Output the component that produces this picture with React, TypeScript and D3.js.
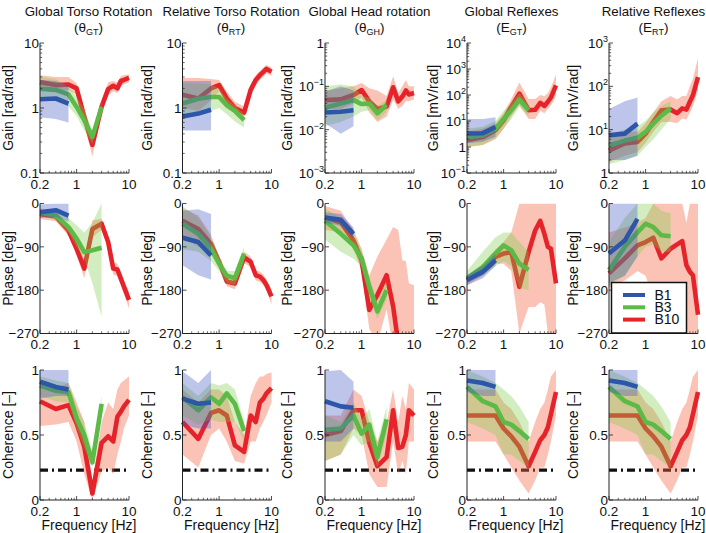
import React from "react";
import * as d3 from "d3";

// ---------- frequencies ----------
const FREQ_B1 = [0.2, 0.4, 0.7];
const FREQ_B3 = [0.2, 0.4, 0.7, 1, 1.4, 2, 3];
const FREQ_B10 = [0.2, 0.4, 0.7, 1, 1.4, 2, 3, 4, 5, 6, 7, 8, 10];

const X_TICKS = [0.2, 1, 10];
const X_TICK_LABELS = ["0.2", "1", "10"];
const COH_THRESHOLD = 0.23;

const TITLES = ["Global Torso Rotation", "Relative Torso Rotation", "Global Head rotation", "Global Reflexes", "Relative Reflexes"];
const TITLE_SYMBOLS = ["θ", "θ", "θ", "E", "E"];
const TITLE_SUBS = ["GT", "RT", "GH", "GT", "RT"];
const GAIN_LABELS = ["Gain [rad/rad]", "Gain [rad/rad]", "Gain [rad/rad]", "Gain [mV/rad]", "Gain [mV/rad]"];
const GAIN_DOMAINS: [number, number][] = [[0.1, 10], [0.1, 10], [0.001, 1], [0.1, 10000], [1, 1000]];
const GAIN_TICK_EXPS = [[-1, 0, 1], [-1, 0, 1], [-3, -2, -1, 0], [-1, 0, 1, 2, 3, 4], [0, 1, 2, 3]];
const GAIN_TICK_STYLE = ["decimal", "decimal", "power", "power", "power"];
const PHASE_TICKS = [-270, -180, -90, 0];
const COH_TICKS = [0, 0.5, 1];
const LEGEND_NAMES = ["B1", "B3", "B10"];

// ---------- Gain: Global torso (θGT) ----------
const gainGT_B1 = [1.36, 1.4, 1.17];
const gainGT_B1_lo = [0.72, 0.68, 0.6];
const gainGT_B1_hi = [2.7, 2.6, 2.2];
const gainGT_B3 = [1.98, 1.9, 1.62, 1.04, 0.65, 0.36, 1.04];
const gainGT_B3_lo = [1.3, 1.3, 1.05, 0.75, 0.45, 0.28, 0.9];
const gainGT_B3_hi = [3.0, 2.8, 2.1, 1.5, 0.95, 0.45, 1.25];
const gainGT_B10 = [2.5, 2.25, 2.3, 2.0, 0.73, 0.27, 1.05, 1.95, 2.2, 2.0, 2.6, 2.7, 2.9];
const gainGT_B10_lo = [1.9, 1.8, 1.9, 1.6, 0.55, 0.18, 0.85, 1.6, 1.8, 1.7, 2.2, 2.3, 2.5];
const gainGT_B10_hi = [3.2, 3.0, 3.0, 2.4, 0.95, 0.4, 1.3, 2.5, 2.6, 2.5, 3.1, 3.2, 3.3];

// ---------- Gain: Relative torso (θRT) ----------
const gainRT_B1 = [0.74, 0.82, 0.94];
const gainRT_B1_lo = [0.45, 0.45, 0.45];
const gainRT_B1_hi = [2.6, 2.6, 2.6];
const gainRT_B3 = [1.17, 1.39, 1.48, 1.48, 1.1, 0.9, 0.65];
const gainRT_B3_lo = [0.7, 0.8, 0.9, 1.0, 0.8, 0.62, 0.5];
const gainRT_B3_hi = [2.4, 2.4, 2.3, 2.0, 1.4, 1.1, 0.8];
const gainRT_B10 = [1.6, 1.4, 2.0, 2.25, 1.4, 1.0, 0.85, 1.9, 2.7, 3.2, 3.6, 4.0, 3.6];
const gainRT_B10_lo = [1.0, 0.9, 1.3, 1.8, 1.1, 0.8, 0.7, 1.5, 2.2, 2.7, 3.0, 3.4, 3.1];
const gainRT_B10_hi = [2.9, 2.9, 2.8, 2.7, 1.8, 1.25, 1.05, 2.3, 3.2, 3.7, 4.2, 4.6, 4.2];

// ---------- Gain: Global head (θGH) ----------
const gainGH_B1 = [0.025, 0.026, 0.028];
const gainGH_B1_lo = [0.014, 0.008, 0.012];
const gainGH_B1_hi = [0.075, 0.1, 0.08];
const gainGH_B3 = [0.032, 0.04, 0.048, 0.039, 0.04, 0.024, 0.037];
const gainGH_B3_lo = [0.012, 0.015, 0.02, 0.026, 0.028, 0.016, 0.026];
const gainGH_B3_hi = [0.1, 0.11, 0.1, 0.06, 0.055, 0.035, 0.05];
const gainGH_B10 = [0.048, 0.05, 0.063, 0.082, 0.045, 0.03, 0.034, 0.095, 0.045, 0.058, 0.08, 0.065, 0.07];
const gainGH_B10_lo = [0.03, 0.03, 0.04, 0.055, 0.025, 0.015, 0.02, 0.05, 0.03, 0.035, 0.045, 0.045, 0.05];
const gainGH_B10_hi = [0.08, 0.09, 0.1, 0.12, 0.09, 0.08, 0.06, 0.17, 0.07, 0.1, 0.14, 0.1, 0.1];

// ---------- Gain: Global reflexes (EGT) ----------
const gainEGT_B1 = [3.3, 3.4, 5.9];
const gainEGT_B1_lo = [1.4, 1.6, 2.5];
const gainEGT_B1_hi = [12, 12, 14];
const gainEGT_B3 = [2.4, 2.8, 5.0, 12, 26, 66, 26];
const gainEGT_B3_lo = [1.0, 1.2, 2.2, 5, 12, 35, 15];
const gainEGT_B3_hi = [5, 6, 10, 25, 50, 120, 45];
const gainEGT_B10 = [1.8, 2.4, 4.4, 10.6, 35, 112, 26, 27, 50, 38, 55, 80, 234];
const gainEGT_B10_lo = [1.0, 1.2, 2.0, 5, 15, 40, 12, 12, 25, 20, 30, 40, 90];
const gainEGT_B10_hi = [4, 5, 8, 20, 70, 300, 70, 70, 100, 90, 120, 200, 600];

// ---------- Gain: Relative reflexes (ERT) ----------
const gainERT_B1 = [7.4, 8.1, 13.8];
const gainERT_B1_lo = [2, 2, 2.5];
const gainERT_B1_hi = [30, 45, 55];
const gainERT_B3 = [4.3, 5.6, 6.5, 8.9, 13.8, 21, 31];
const gainERT_B3_lo = [1.6, 2, 2.5, 4, 6, 10, 18];
const gainERT_B3_hi = [8, 10, 12, 16, 25, 35, 45];
const gainERT_B10 = [3.3, 4.8, 5.2, 8.1, 15, 28, 29, 24, 31, 29, 44, 62, 164];
const gainERT_B10_lo = [1.8, 2.5, 3, 5, 9, 15, 15, 14, 18, 17, 25, 35, 80];
const gainERT_B10_hi = [7, 9, 9, 14, 25, 45, 60, 50, 60, 60, 100, 150, 450];

// ---------- Phase ----------
const phaseGT_B1 = [-18, -14, -25];
const phaseGT_B1_lo = [-30, -28, -38];
const phaseGT_B1_hi = [-2, 0, 0];
const phaseGT_B3 = [-18, -25, -49, -73, -101, -97, -92];
const phaseGT_B3_lo = [-25, -35, -60, -90, -115, -165, -235];
const phaseGT_B3_hi = [-10, -15, -30, -45, -60, -40, 0];
const phaseGT_B10 = [-22, -27, -56, -94, -135, -53, -42, -80, -135, -137, -156, -173, -200];
const phaseGT_B10_lo = [-32, -37, -67, -108, -155, -70, -55, -92, -148, -150, -170, -188, -218];
const phaseGT_B10_hi = [-12, -18, -45, -80, -115, -35, -32, -68, -122, -125, -143, -160, -182];

const phaseRT_B1 = [-71, -80, -108];
const phaseRT_B1_lo = [-128, -149, -158];
const phaseRT_B1_hi = [-15, -12, -22];
const phaseRT_B3 = [-42, -63, -94, -125, -150, -155, -104];
const phaseRT_B3_lo = [-95, -100, -120, -140, -165, -170, -125];
const phaseRT_B3_hi = [-5, -30, -70, -110, -140, -140, -90];
const phaseRT_B10 = [-36, -53, -84, -121, -162, -166, -112, -121, -149, -152, -159, -169, -193];
const phaseRT_B10_lo = [-70, -90, -105, -132, -172, -178, -124, -132, -160, -163, -170, -180, -210];
const phaseRT_B10_hi = [-10, -25, -65, -110, -152, -155, -100, -110, -138, -141, -148, -158, -178];

const phaseGH_B1 = [-29, -34, -63];
const phaseGH_B1_lo = [-40, -46, -74];
const phaseGH_B1_hi = [-18, -22, -50];
const phaseGH_B3 = [-36, -63, -87, -114, -173, -224, -180];
const phaseGH_B3_lo = [-75, -100, -115, -130, -195, -240, -200];
const phaseGH_B3_hi = [-10, -30, -60, -95, -150, -205, -160];
const phaseGH_B10 = [-29, -39, -77, -118, -221, -190, -149, -214, -290, -300, -310, -310, -310];
const phaseGH_B10_lo = [-55, -60, -95, -140, -260, -290, -220, -300, -300, -300, -300, -300, -300];
const phaseGH_B10_hi = [-5, -15, -55, -95, -150, -110, -75, -49, -55, -118, -120, -166, -170];

const phaseEGT_B1 = [-159, -142, -118];
const phaseEGT_B1_lo = [-170, -155, -130];
const phaseEGT_B1_hi = [-148, -130, -105];
const phaseEGT_B3 = [-156, -132, -104, -87, -97, -125, -138];
const phaseEGT_B3_lo = [-165, -150, -130, -120, -130, -175, -180];
const phaseEGT_B3_hi = [-140, -100, -70, -60, -60, -80, -100];
const phaseEGT_B10 = [-159, -138, -111, -104, -101, -173, -101, -56, -36, -63, -90, -94, -166];
const phaseEGT_B10_lo = [-170, -150, -125, -125, -140, -270, -215, -215, -205, -210, -270, -270, -270];
const phaseEGT_B10_hi = [-150, -125, -95, -80, -60, 0, 0, 0, 0, 0, 0, 0, 0];

const phaseERT_B1 = [-104, -77, -32];
const phaseERT_B1_lo = [-165, -150, -110];
const phaseERT_B1_hi = [0, 0, 0];
const phaseERT_B3 = [-138, -90, -60, -42, -49, -66, -68];
const phaseERT_B3_lo = [-170, -150, -110, -90, -85, -100, -100];
const phaseERT_B3_hi = [-80, -30, 0, 0, 0, -15, -20];
const phaseERT_B10 = [-145, -114, -87, -80, -71, -114, -94, -85, -78, -128, -142, -149, -231];
const phaseERT_B10_lo = [-175, -160, -140, -150, -200, -270, -270, -270, -260, -270, -270, -270, -270];
const phaseERT_B10_hi = [-60, -50, -40, -30, 0, 0, 0, 0, 0, -40, 0, 0, 0];

// ---------- Coherence ----------
const cohGT_B1 = [0.91, 0.87, 0.85];
const cohGT_B1_lo = [0.78, 0.8, 0.8];
const cohGT_B1_hi = [1, 1, 1];
const cohGT_B3 = [0.88, 0.84, 0.83, 0.63, 0.5, 0.29, 0.74];
const cohGT_B3_lo = [0.8, 0.76, 0.75, 0.55, 0.4, 0.25, 0.65];
const cohGT_B3_hi = [0.95, 0.92, 0.9, 0.72, 0.6, 0.37, 0.8];
const cohGT_B10 = [0.76, 0.7, 0.73, 0.59, 0.41, 0.05, 0.44, 0.49, 0.45, 0.64, 0.68, 0.72, 0.77];
const cohGT_B10_lo = [0.57, 0.58, 0.6, 0.45, 0.2, 0.0, 0.22, 0.25, 0.2, 0.35, 0.45, 0.55, 0.65];
const cohGT_B10_hi = [0.9, 0.86, 0.9, 0.75, 0.6, 0.15, 0.6, 0.75, 0.7, 0.85, 0.9, 0.92, 0.95];

const cohRT_B1 = [0.78, 0.74, 0.75];
const cohRT_B1_lo = [0.58, 0.55, 0.55];
const cohRT_B1_hi = [0.99, 0.9, 1.0];
const cohRT_B3 = [0.79, 0.69, 0.79, 0.74, 0.82, 0.74, 0.53];
const cohRT_B3_lo = [0.65, 0.58, 0.62, 0.6, 0.6, 0.6, 0.45];
const cohRT_B3_hi = [0.9, 0.8, 0.9, 0.88, 0.9, 0.85, 0.6];
const cohRT_B10 = [0.6, 0.47, 0.67, 0.69, 0.65, 0.42, 0.37, 0.65, 0.6, 0.75, 0.78, 0.82, 0.86];
const cohRT_B10_lo = [0.35, 0.25, 0.5, 0.55, 0.45, 0.3, 0.28, 0.45, 0.45, 0.55, 0.6, 0.65, 0.75];
const cohRT_B10_hi = [0.85, 0.75, 0.85, 0.85, 0.8, 0.6, 0.5, 0.8, 0.9, 0.95, 0.95, 0.97, 0.98];

const cohGH_B1 = [0.76, 0.72, 0.71];
const cohGH_B1_lo = [0.45, 0.45, 0.55];
const cohGH_B1_hi = [0.99, 1.0, 0.91];
const cohGH_B3 = [0.54, 0.55, 0.65, 0.51, 0.58, 0.33, 0.62];
const cohGH_B3_lo = [0.3, 0.35, 0.5, 0.42, 0.45, 0.25, 0.5];
const cohGH_B3_hi = [0.65, 0.6, 0.75, 0.62, 0.7, 0.45, 0.72];
const cohGH_B10 = [0.5, 0.53, 0.69, 0.69, 0.44, 0.26, 0.33, 0.69, 0.4, 0.41, 0.5, 0.69, 0.65];
const cohGH_B10_lo = [0.3, 0.35, 0.55, 0.5, 0.2, 0.1, 0.1, 0.45, 0.2, 0.3, 0.2, 0.45, 0.45];
const cohGH_B10_hi = [0.65, 0.65, 0.85, 0.8, 0.6, 0.45, 0.6, 0.85, 0.6, 0.8, 0.7, 0.9, 0.85];

const cohE_B1 = [0.92, 0.9, 0.87];
const cohE_B1_lo = [0.83, 0.8, 0.8];
const cohE_B1_hi = [1, 1, 1];
const cohE_B3 = [0.87, 0.76, 0.72, 0.6, 0.58, 0.53, 0.47];
const cohE_B3_lo = [0.6, 0.55, 0.5, 0.35, 0.35, 0.3, 0.25];
const cohE_B3_hi = [1.0, 0.95, 0.9, 0.85, 0.8, 0.72, 0.6];
const cohE_B10 = [0.65, 0.65, 0.65, 0.55, 0.49, 0.41, 0.26, 0.37, 0.46, 0.5, 0.56, 0.66, 0.83];
const cohE_B10_lo = [0.45, 0.45, 0.45, 0.35, 0.25, 0.15, 0.05, 0.15, 0.25, 0.25, 0.35, 0.45, 0.65];
const cohE_B10_hi = [0.85, 0.85, 0.85, 0.75, 0.7, 0.6, 0.45, 0.6, 0.7, 0.75, 0.85, 0.95, 1.0];

// ---------- styling / layout ----------
const LINE_COLORS = ["#2d55a8", "#5cba47", "#e6232a"];
const FILL_COLORS = ["#3b4fc2", "#7ccc48", "#f26a45"];
const FILL_OPACITY = [0.33, 0.34, 0.4];
const FONT = "'Liberation Sans', Arial, Helvetica, sans-serif";
const COL_X = [40, 182.5, 325, 467, 609];
const PW = 89;
const ROW_Y = [43, 203.5, 370];
const PH = 130;
const YLABEL_OFF = [27, 30.5, 33, 29, 31];
const XTICK_DY = [15.5, 15.5, 16];
const TITLE_DX = [4, 4, 0, 0, 0];

type S = { f: number[]; m: number[]; lo: number[]; hi: number[] };
const mk = (f: number[], m: number[], lo: number[], hi: number[]): S => ({ f, m, lo, hi });

const GAIN_SERIES: S[][] = [
  [mk(FREQ_B1, gainGT_B1, gainGT_B1_lo, gainGT_B1_hi), mk(FREQ_B3, gainGT_B3, gainGT_B3_lo, gainGT_B3_hi), mk(FREQ_B10, gainGT_B10, gainGT_B10_lo, gainGT_B10_hi)],
  [mk(FREQ_B1, gainRT_B1, gainRT_B1_lo, gainRT_B1_hi), mk(FREQ_B3, gainRT_B3, gainRT_B3_lo, gainRT_B3_hi), mk(FREQ_B10, gainRT_B10, gainRT_B10_lo, gainRT_B10_hi)],
  [mk(FREQ_B1, gainGH_B1, gainGH_B1_lo, gainGH_B1_hi), mk(FREQ_B3, gainGH_B3, gainGH_B3_lo, gainGH_B3_hi), mk(FREQ_B10, gainGH_B10, gainGH_B10_lo, gainGH_B10_hi)],
  [mk(FREQ_B1, gainEGT_B1, gainEGT_B1_lo, gainEGT_B1_hi), mk(FREQ_B3, gainEGT_B3, gainEGT_B3_lo, gainEGT_B3_hi), mk(FREQ_B10, gainEGT_B10, gainEGT_B10_lo, gainEGT_B10_hi)],
  [mk(FREQ_B1, gainERT_B1, gainERT_B1_lo, gainERT_B1_hi), mk(FREQ_B3, gainERT_B3, gainERT_B3_lo, gainERT_B3_hi), mk(FREQ_B10, gainERT_B10, gainERT_B10_lo, gainERT_B10_hi)],
];
const PHASE_SERIES: S[][] = [
  [mk(FREQ_B1, phaseGT_B1, phaseGT_B1_lo, phaseGT_B1_hi), mk(FREQ_B3, phaseGT_B3, phaseGT_B3_lo, phaseGT_B3_hi), mk(FREQ_B10, phaseGT_B10, phaseGT_B10_lo, phaseGT_B10_hi)],
  [mk(FREQ_B1, phaseRT_B1, phaseRT_B1_lo, phaseRT_B1_hi), mk(FREQ_B3, phaseRT_B3, phaseRT_B3_lo, phaseRT_B3_hi), mk(FREQ_B10, phaseRT_B10, phaseRT_B10_lo, phaseRT_B10_hi)],
  [mk(FREQ_B1, phaseGH_B1, phaseGH_B1_lo, phaseGH_B1_hi), mk(FREQ_B3, phaseGH_B3, phaseGH_B3_lo, phaseGH_B3_hi), mk(FREQ_B10, phaseGH_B10, phaseGH_B10_lo, phaseGH_B10_hi)],
  [mk(FREQ_B1, phaseEGT_B1, phaseEGT_B1_lo, phaseEGT_B1_hi), mk(FREQ_B3, phaseEGT_B3, phaseEGT_B3_lo, phaseEGT_B3_hi), mk(FREQ_B10, phaseEGT_B10, phaseEGT_B10_lo, phaseEGT_B10_hi)],
  [mk(FREQ_B1, phaseERT_B1, phaseERT_B1_lo, phaseERT_B1_hi), mk(FREQ_B3, phaseERT_B3, phaseERT_B3_lo, phaseERT_B3_hi), mk(FREQ_B10, phaseERT_B10, phaseERT_B10_lo, phaseERT_B10_hi)],
];
const COH_SERIES: S[][] = [
  [mk(FREQ_B1, cohGT_B1, cohGT_B1_lo, cohGT_B1_hi), mk(FREQ_B3, cohGT_B3, cohGT_B3_lo, cohGT_B3_hi), mk(FREQ_B10, cohGT_B10, cohGT_B10_lo, cohGT_B10_hi)],
  [mk(FREQ_B1, cohRT_B1, cohRT_B1_lo, cohRT_B1_hi), mk(FREQ_B3, cohRT_B3, cohRT_B3_lo, cohRT_B3_hi), mk(FREQ_B10, cohRT_B10, cohRT_B10_lo, cohRT_B10_hi)],
  [mk(FREQ_B1, cohGH_B1, cohGH_B1_lo, cohGH_B1_hi), mk(FREQ_B3, cohGH_B3, cohGH_B3_lo, cohGH_B3_hi), mk(FREQ_B10, cohGH_B10, cohGH_B10_lo, cohGH_B10_hi)],
  [mk(FREQ_B1, cohE_B1, cohE_B1_lo, cohE_B1_hi), mk(FREQ_B3, cohE_B3, cohE_B3_lo, cohE_B3_hi), mk(FREQ_B10, cohE_B10, cohE_B10_lo, cohE_B10_hi)],
  [mk(FREQ_B1, cohE_B1, cohE_B1_lo, cohE_B1_hi), mk(FREQ_B3, cohE_B3, cohE_B3_lo, cohE_B3_hi), mk(FREQ_B10, cohE_B10, cohE_B10_lo, cohE_B10_hi)],
];

type YTick = { v: number; base: string; exp?: string };

function gainTicks(col: number): YTick[] {
  return GAIN_TICK_EXPS[col].map((e) => {
    const v = Math.pow(10, e);
    if (GAIN_TICK_STYLE[col] === "decimal") return { v, base: String(+v.toFixed(3)) };
    if (e === 0) return { v, base: "1" };
    return { v, base: "10", exp: e < 0 ? "\u2212" + Math.abs(e) : String(e) };
  });
}

function Panel({ row, col }: { row: number; col: number }) {
  const x0 = COL_X[col];
  const y0 = ROW_Y[row];
  const isLog = row === 0;
  const domain: [number, number] = row === 0 ? GAIN_DOMAINS[col] : row === 1 ? [-270, 0] : [0, 1];
  const xs = d3.scaleLog().domain([0.2, 10]).range([x0, x0 + PW]);
  const ys: any = isLog
    ? d3.scaleLog().domain(domain).range([y0 + PH, y0])
    : d3.scaleLinear().domain(domain).range([y0 + PH, y0]);
  const series = row === 0 ? GAIN_SERIES[col] : row === 1 ? PHASE_SERIES[col] : COH_SERIES[col];
  const yTicks: YTick[] =
    row === 0
      ? gainTicks(col)
      : row === 1
      ? PHASE_TICKS.map((v) => ({ v, base: v < 0 ? "\u2212" + Math.abs(v) : String(v) }))
      : COH_TICKS.map((v) => ({ v, base: String(v) }));
  const ylabel = row === 0 ? GAIN_LABELS[col] : row === 1 ? "Phase [deg]" : "Coherence [\u2013]";
  const clipId = `clip-${row}-${col}`;

  const xMinor: number[] = [];
  for (const d of [0.1, 1]) for (let k = 2; k <= 9; k++) {
    const v = k * d;
    if (v > 0.2 + 1e-9 && v < 10 - 1e-9 && Math.abs(v - 1) > 1e-9) xMinor.push(v);
  }
  const yMinor: number[] = [];
  if (isLog) {
    const e0 = Math.round(Math.log10(domain[0]));
    const e1 = Math.round(Math.log10(domain[1]));
    for (let e = e0; e < e1; e++) for (let k = 2; k <= 9; k++) yMinor.push(k * Math.pow(10, e));
  }

  const order = [2, 1, 0]; // B10, B3, B1
  const yBottom = y0 + PH;

  return (
    <g>
      <defs>
        <clipPath id={clipId}>
          <rect x={x0 - 3} y={y0} width={PW + 6} height={PH} />
        </clipPath>
      </defs>
      <g clipPath={`url(#${clipId})`}>
        {row === 2 && (
          <line
            x1={xs(0.2)}
            x2={xs(10)}
            y1={ys(COH_THRESHOLD)}
            y2={ys(COH_THRESHOLD)}
            stroke="#111"
            strokeWidth={3.2}
            strokeDasharray="8,4,2,4"
          />
        )}
        {order.map((si) => {
          const s = series[si];
          const idx = s.f.map((_, i) => i);
          const area = d3
            .area<number>()
            .x((i) => xs(s.f[i]))
            .y0((i) => ys(s.lo[i]))
            .y1((i) => ys(s.hi[i]));
          const line = d3
            .line<number>()
            .x((i) => xs(s.f[i]))
            .y((i) => ys(s.m[i]));
          return (
            <g key={si}>
              <path d={area(idx) || ""} fill={FILL_COLORS[si]} fillOpacity={FILL_OPACITY[si]} stroke="none" />
              <path d={line(idx) || ""} fill="none" stroke={LINE_COLORS[si]} strokeWidth={4.6} strokeLinejoin="round" />
            </g>
          );
        })}
      </g>
      {/* axes */}
      <line x1={x0} x2={x0} y1={y0} y2={yBottom} stroke="#222" strokeWidth={1} />
      <line x1={x0} x2={x0 + PW} y1={yBottom} y2={yBottom} stroke="#222" strokeWidth={1} />
      {X_TICKS.map((t) => (
        <line key={"xt" + t} x1={xs(t)} x2={xs(t)} y1={yBottom} y2={yBottom - 4} stroke="#222" strokeWidth={0.8} />
      ))}
      {xMinor.map((t) => (
        <line key={"xm" + t} x1={xs(t)} x2={xs(t)} y1={yBottom} y2={yBottom - 2.2} stroke="#222" strokeWidth={0.7} />
      ))}
      {yTicks.map((t) => (
        <line key={"yt" + t.v} x1={x0} x2={x0 + 4} y1={ys(t.v)} y2={ys(t.v)} stroke="#222" strokeWidth={0.8} />
      ))}
      {yMinor.map((t) => (
        <line key={"ym" + t} x1={x0} x2={x0 + 2.2} y1={ys(t)} y2={ys(t)} stroke="#222" strokeWidth={0.7} />
      ))}
      {X_TICKS.map((t, i) => (
        <text key={"xl" + t} x={xs(t)} y={yBottom + XTICK_DY[row]} textAnchor="middle" fontSize={13.5} fontFamily={FONT} fill="#111">
          {X_TICK_LABELS[i]}
        </text>
      ))}
      {yTicks.map((t) => (
        <text key={"yl" + t.v} x={x0 - 1} y={ys(t.v)} dy="0.36em" textAnchor="end" fontSize={13.5} fontFamily={FONT} fill="#111">
          <tspan>{t.base}</tspan>
          {t.exp && (
            <tspan dy={-6} fontSize={9}>
              {t.exp}
            </tspan>
          )}
        </text>
      ))}
      <text
        transform={`translate(${x0 - YLABEL_OFF[col]},${y0 + PH / 2}) rotate(-90)`}
        textAnchor="middle"
        fontSize={14}
        fontFamily={FONT}
        fill="#111"
      >
        {ylabel}
      </text>
      {row === 2 && (
        <text x={x0 + PW / 2 + 4.5} y={yBottom + 30} textAnchor="middle" fontSize={14} fontFamily={FONT} fill="#111">
          Frequency [Hz]
        </text>
      )}
    </g>
  );
}

function Legend() {
  const lx = 611.5;
  const ly = 282.5;
  return (
    <g>
      <rect x={lx} y={ly} width={75} height={50.5} fill="#fff" stroke="#111" strokeWidth={1.5} />
      {LEGEND_NAMES.map((n, i) => (
        <g key={n}>
          <line x1={lx + 11.5} x2={lx + 33.5} y1={ly + 12.5 + i * 12.3} y2={ly + 12.5 + i * 12.3} stroke={LINE_COLORS[i]} strokeWidth={4} />
          <text x={lx + 43} y={ly + 17.3 + i * 12.3} fontSize={14} fontFamily={FONT} fill="#111">
            {n}
          </text>
        </g>
      ))}
    </g>
  );
}

export default function App() {
  const rows = [0, 1, 2];
  const cols = [0, 1, 2, 3, 4];
  return (
    <svg width={706} height={533} style={{ position: "absolute", left: 0, top: 0, background: "#fff" }}>
      <rect x={0} y={0} width={706} height={533} fill="#fff" />
      {cols.map((c) => {
        const cx = COL_X[c] + PW / 2 + TITLE_DX[c];
        return (
          <g key={"t" + c}>
            <text x={cx} y={15.5} textAnchor="middle" fontSize={13.3} fontFamily={FONT} fill="#111">
              {TITLES[c]}
            </text>
            <text x={cx} y={31.5} textAnchor="middle" fontSize={13.5} fontFamily={FONT} fill="#111">
              <tspan>({TITLE_SYMBOLS[c]}</tspan>
              <tspan dy={3} fontSize={9}>
                {TITLE_SUBS[c]}
              </tspan>
              <tspan dy={-3}>)</tspan>
            </text>
          </g>
        );
      })}
      {rows.map((r) => cols.map((c) => <Panel key={r + "-" + c} row={r} col={c} />))}
      <Legend />
    </svg>
  );
}
